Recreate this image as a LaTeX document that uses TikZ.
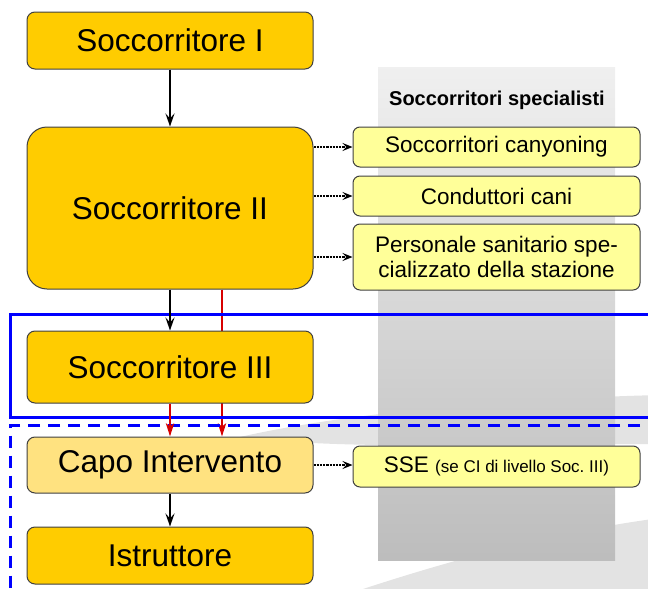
\documentclass[tikz,border=0pt]{standalone}
\usepackage{fontspec}
\setmainfont{Liberation Sans}
\usetikzlibrary{arrows.meta,backgrounds}
\definecolor{giallo}{RGB}{255,204,0}
\definecolor{giallochiaro}{RGB}{255,226,128}
\definecolor{paglia}{RGB}{255,255,153}
\definecolor{rosso}{RGB}{215,0,0}
\definecolor{blu}{RGB}{0,0,255}
\definecolor{fondo}{RGB}{227,227,227}

\tikzset{
  livello/.style={draw=black!75, line width=1pt, fill=giallo, rounded corners=8pt,
    minimum width=286pt, inner sep=0pt, font=\fontsize{31.5}{36}\selectfont},
  spec/.style={draw=black!75, line width=1pt, fill=paglia, rounded corners=7pt,
    minimum width=287pt, inner sep=0pt, align=center, font=\fontsize{22.5}{25}\selectfont},
  freccia/.style={-{Stealth[length=13pt,width=9pt,inset=5pt]}, line width=2.2pt},
  rossa/.style={-{Stealth[length=13pt,width=8pt,inset=3pt]}, line width=2.8pt, draw=rosso, fill=rosso},
  puntini/.style={-{Stealth[length=10pt,width=8pt,inset=4pt]}, densely dotted, line width=2.2pt},
}

\begin{document}
\begin{tikzpicture}[x=1pt, y=-1pt]
        \useasboundingbox (0,0) rectangle (648,589);

        % fondo
        \fill[fondo] (240,437) .. controls (340,414) and (500,399) .. (660,395) -- (660,444) .. controls (500,444) and (340,450) .. cycle;
        \fill[fondo] (330,600) .. controls (430,566) and (540,534) .. (660,518) -- (660,600) -- cycle;
        \shade[top color=black!6, bottom color=black!26] (378,67) rectangle (615,560);
        \node[font=\bfseries\fontsize{20}{24}\selectfont] (titolo) at (497,100) {Soccorritori specialisti};

        \draw[blu, line width=3pt] (660,314) -| (10.5,417) -- (660,417);
        \draw[blu, line width=3pt, dash pattern=on 12pt off 8pt] (660,425) -| (10.5,600);

        \node[livello, minimum height=57pt] (s1) at (170,40.5) {Soccorritore I};
        \node[livello, minimum height=162pt, rounded corners=20pt] (s2) at (170,208) {Soccorritore II};
        \node[livello, minimum height=72pt] (s3) at (170,367) {Soccorritore III};
        \node[livello, minimum height=56pt, fill=giallochiaro] (ci) at (170,465) {Capo Intervento};
        \node[livello, minimum height=57pt] (istr) at (170,555.5) {Istruttore};

        \node[spec, minimum height=40pt] (cany) at (496.5,147) {Soccorritori canyoning};
        \node[spec, minimum height=40pt] (cani) at (496.5,196) {Conduttori cani};
        \node[spec, minimum height=66pt] (pers) at (496.5,257) {Personale sanitario spe-\\cializzato della stazione};
        \node[spec, minimum height=41pt] (sse) at (496.5,466.5) {SSE {\fontsize{17}{20}\selectfont (se CI di livello Soc.~III)}};

        \draw[freccia] (s1) -- (s2);
        \draw[freccia] (s2) -- (s3);
        \draw[rossa] (s3) -- (ci);
        \draw[freccia] (ci) -- (istr);
        \begin{scope}[on background layer]
          \draw[rossa] ([xshift=52pt]s2.south) -- ([xshift=52pt]ci.north);
        \end{scope}

        \draw[puntini] (s2.east |- cany.west) -- (cany.west);
        \draw[puntini] (s2.east |- cani.west) -- (cani.west);
        \draw[puntini] (s2.east |- pers.west) -- (pers.west);
        \draw[puntini] (ci.east) -- (sse.west |- ci.east);

      \end{tikzpicture}
\end{document}
